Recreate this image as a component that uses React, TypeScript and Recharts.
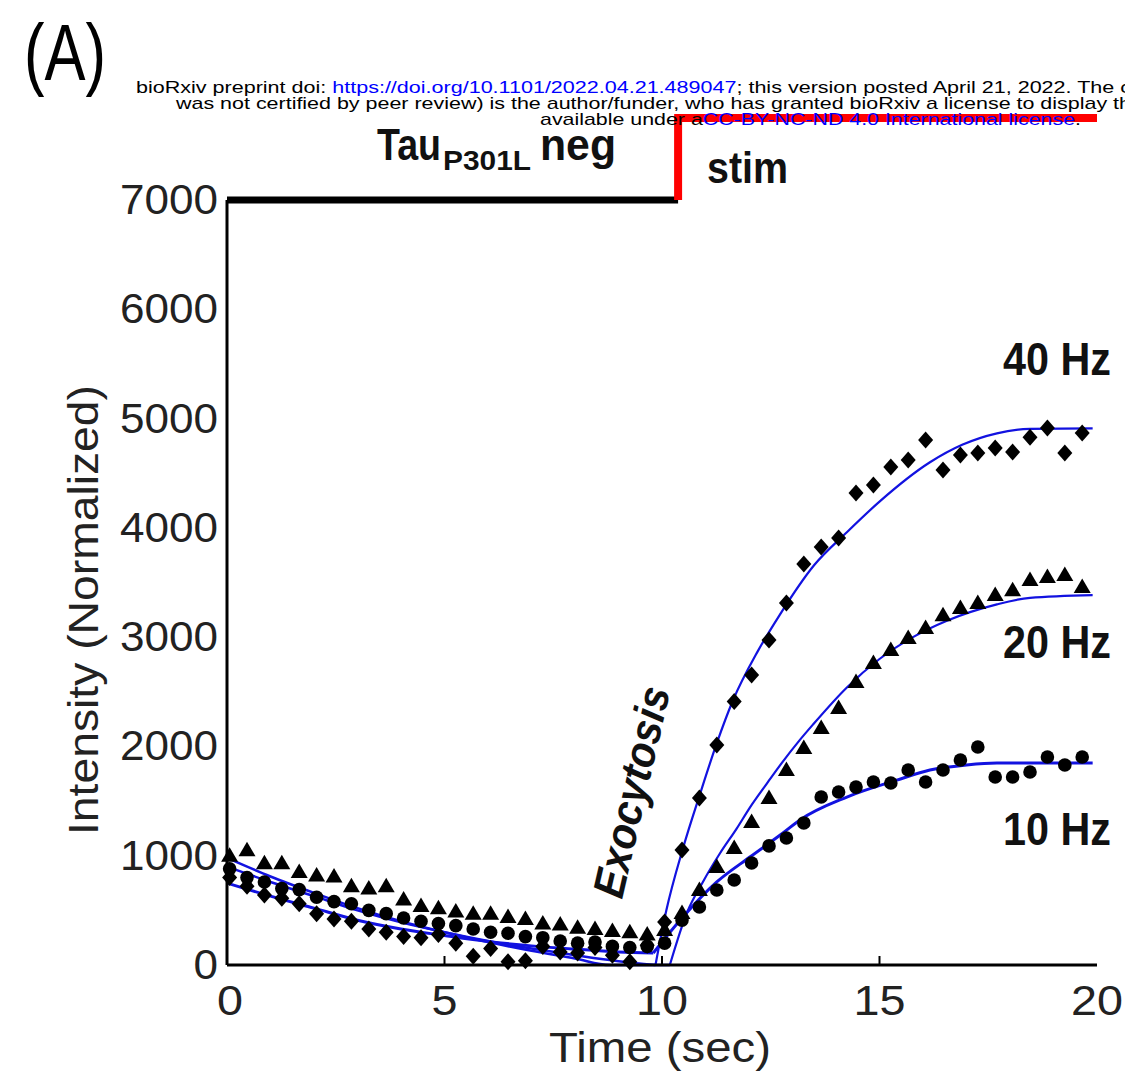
import { ComposedChart, Scatter, Line, XAxis, YAxis, ReferenceLine } from "recharts"

// sample times (s), shared by the three scatter series
const time = [
  0.06, 0.46, 0.86, 1.26, 1.66, 2.06, 2.46, 2.86, 3.26, 3.66, 4.06, 4.46, 4.86, 5.26, 5.66, 6.06, 6.46,
  6.86, 7.26, 7.66, 8.06, 8.46, 8.86, 9.26, 9.66, 10.06, 10.46, 10.86, 11.26, 11.66, 12.06, 12.46, 12.86,
  13.26, 13.66, 14.06, 14.46, 14.86, 15.26, 15.66, 16.06, 16.46, 16.86, 17.26, 17.66, 18.06, 18.46, 18.86,
  19.26, 19.66,
]

const hz40 = [
  800, 720, 640, 610, 560, 470, 420, 400, 330, 300, 260, 250, 280, 200, 80, 150, 30, 40, 170, 120, 110,
  160, 90, 30, 180, 393, 1052, 1528, 2013, 2410, 2653, 2973, 3312, 3670, 3824, 3907, 4318, 4392, 4556,
  4620, 4803, 4529, 4666, 4684, 4730, 4693, 4830, 4913, 4684, 4867,
]

const hz20 = [
  1000, 1050, 930, 930, 850, 820, 810, 720, 700, 720, 600, 540, 520, 490, 470, 470, 440, 420, 380, 370,
  340, 330, 310, 300, 280, 320, 475, 686, 897, 1070, 1308, 1528, 1784, 1985, 2168, 2351, 2589, 2763, 2882,
  2992, 3083, 3200, 3266, 3312, 3385, 3430, 3522, 3550, 3568, 3458,
]

const hz10 = [
  880, 800, 760, 700, 690, 620, 580, 560, 500, 470, 430, 400, 380, 360, 330, 300, 290, 260, 250, 220, 200,
  210, 170, 160, 170, 200, 411, 531, 686, 778, 933, 1090, 1162, 1300, 1537, 1583, 1628, 1674, 1665, 1784,
  1674, 1784, 1876, 1995, 1720, 1720, 1766, 1903, 1830, 1903,
]

// fitted curves (baseline decay + rise after stimulation)
const fit40BaseT = [0, 1, 2, 3, 4, 5, 6, 7, 8, 9, 9.85]
const fit40BaseV = [900, 760, 630, 500, 390, 300, 220, 150, 90, 35, 0]
const fit40RiseT = [9.85, 10.1, 10.48, 10.87, 11.26, 11.63, 12.2, 12.7, 13.5, 14.25, 15, 16.16, 16.9, 17.7, 18.46, 19.9]
const fit40RiseV = [0, 500, 1065, 1560, 2030, 2420, 2870, 3200, 3660, 3960, 4240, 4600, 4760, 4865, 4905, 4910]

const fit20BaseT = [0, 1, 2, 3, 4, 5, 6, 7, 8, 8.8, 10.18]
const fit20BaseV = [980, 810, 660, 520, 400, 300, 210, 130, 60, 0, 0]
const fit20RiseT = [10.18, 10.57, 10.94, 11.33, 11.72, 12.02, 12.41, 12.7, 13.17, 13.47, 14.25, 15, 15.77, 16.55, 17.7, 18.46, 19.9]
const fit20RiseV = [0, 475, 760, 1020, 1250, 1440, 1660, 1820, 2060, 2200, 2540, 2800, 3000, 3150, 3300, 3360, 3385]

const fit10BaseT = [0, 1, 2, 3, 4, 5, 6, 7, 8, 9, 9.8]
const fit10BaseV = [750, 630, 520, 410, 330, 270, 215, 175, 145, 120, 110]
const fit10RiseT = [9.8, 10.48, 11.26, 12.02, 12.78, 13.17, 14.25, 15.4, 16.16, 17, 17.7, 19.9]
const fit10RiseV = [110, 439, 760, 988, 1208, 1327, 1537, 1692, 1784, 1830, 1848, 1848]

const xTicks = [0, 5, 10, 15, 20]
const yTicks = [0, 1000, 2000, 3000, 4000, 5000, 6000, 7000]

const stimOn = 10.37
const stimLevel = 7750

const FONT = "'Liberation Sans', Arial, Helvetica, sans-serif"
const FIT_BLUE = "#1212e0"

const toPoints = (ts: number[], vs: number[]) => ts.map((t, i) => ({ t, v: vs[i] }))

const Diamond = (p: any) => (
  <path d={`M${p.cx},${p.cy - 8.5}L${p.cx + 7.5},${p.cy}L${p.cx},${p.cy + 8.5}L${p.cx - 7.5},${p.cy}Z`} fill="#000" />
)
const Triangle = (p: any) => (
  <path d={`M${p.cx},${p.cy - 8.5}L${p.cx + 8.5},${p.cy + 6}L${p.cx - 8.5},${p.cy + 6}Z`} fill="#000" />
)
const Dot = (p: any) => <circle cx={p.cx} cy={p.cy} r={6.8} fill="#000" />

const XTick = (props: any) => {
  const { x, y, payload } = props
  const inner = payload.value > 0 && payload.value < 20
  const label = String(payload.value)
  return (
    <g>
      {inner && <line x1={x} x2={x} y1={y} y2={y - 9} stroke="#000" strokeWidth={2} />}
      <text x={x + (payload.value === 0 ? 3 : 0)} y={y + 50} textAnchor="middle" fontSize={43} fill="#222"
        fontFamily={FONT} textLength={26 * label.length} lengthAdjust="spacingAndGlyphs">
        {label}
      </text>
    </g>
  )
}

const YTick = (props: any) => {
  const { x, y, payload } = props
  const label = String(payload.value)
  return (
    <text x={x - 9} y={y + 14} textAnchor="end" fontSize={43} fill="#222" fontFamily={FONT}
      textLength={24.5 * label.length} lengthAdjust="spacingAndGlyphs">
      {label}
    </text>
  )
}

const fitLines: [number[], number[], number][] = [
  [fit40BaseT, fit40BaseV, 2.5],
  [fit40RiseT, fit40RiseV, 2.2],
  [fit20BaseT, fit20BaseV, 2.5],
  [fit20RiseT, fit20RiseV, 2.2],
  [fit10BaseT, fit10BaseV, 3],
  [fit10RiseT, fit10RiseV, 3],
]

export default function App() {
  return (
    <div style={{ position: "absolute", left: 0, top: 0, width: 1125, height: 1072, background: "#fff" }}>
      <ComposedChart width={1125} height={1072} margin={{ top: 200, right: 28, bottom: 47, left: 147 }}>
        <XAxis type="number" dataKey="t" domain={[0, 20]} ticks={xTicks} height={60} tickSize={0} tickMargin={0}
          tickLine={false} axisLine={{ stroke: "#000", strokeWidth: 3 }} tick={<XTick />} />
        <YAxis type="number" dataKey="v" domain={[0, 7000]} ticks={yTicks} width={80} tickSize={0} tickMargin={0}
          tickLine={false} axisLine={{ stroke: "#000", strokeWidth: 3 }} tick={<YTick />} />
        <ReferenceLine segment={[{ x: 0, y: 7000 }, { x: stimOn, y: 7000 }]} stroke="#000" strokeWidth={7} ifOverflow="visible" />
        <ReferenceLine segment={[{ x: stimOn, y: 7000 }, { x: stimOn, y: stimLevel }]} stroke="#ff0000" strokeWidth={8} ifOverflow="visible" />
        <ReferenceLine segment={[{ x: stimOn - 0.09, y: stimLevel }, { x: 20, y: stimLevel }]} stroke="#ff0000" strokeWidth={8} ifOverflow="visible" />
        <Scatter data={toPoints(time, hz40)} shape={Diamond} isAnimationActive={false} />
        <Scatter data={toPoints(time, hz20)} shape={Triangle} isAnimationActive={false} />
        <Scatter data={toPoints(time, hz10)} shape={Dot} isAnimationActive={false} />
        {fitLines.map(([ts, vs, w], i) => (
          <Line key={i} data={toPoints(ts, vs)} dataKey="v" type="monotone" stroke={FIT_BLUE} strokeWidth={w}
            dot={false} activeDot={false} isAnimationActive={false} />
        ))}
      </ComposedChart>

      <svg width={1125} height={1072} style={{ position: "absolute", left: 0, top: 0, pointerEvents: "none" }}>
        <text x={24} y={80} fontSize={80} fontFamily={FONT} fill="#000" textLength={82} lengthAdjust="spacingAndGlyphs">(A)</text>

        <text x={136} y={93} fontSize={17} fontFamily={FONT} fill="#000" textLength={995} lengthAdjust="spacingAndGlyphs">
          bioRxiv preprint doi: <tspan fill="#0000ff">https://doi.org/10.1101/2022.04.21.489047</tspan>; this version posted April 21, 2022. The c
        </text>
        <text x={176} y={109} fontSize={17} fontFamily={FONT} fill="#000" textLength={955} lengthAdjust="spacingAndGlyphs">
          was not certified by peer review) is the author/funder, who has granted bioRxiv a license to display th
        </text>
        <text x={540} y={125} fontSize={17} fontFamily={FONT} fill="#000" textLength={541} lengthAdjust="spacingAndGlyphs">
          available under a<tspan fill="#0000ff">CC-BY-NC-ND 4.0 International license</tspan>.
        </text>

        <text x={377} y={160} fontSize={44} fontWeight="bold" fontFamily={FONT} fill="#111" textLength={64} lengthAdjust="spacingAndGlyphs">Tau</text>
        <text x={443} y={170} fontSize={28} fontWeight="bold" fontFamily={FONT} fill="#111" textLength={88} lengthAdjust="spacingAndGlyphs">P301L</text>
        <text x={540} y={160} fontSize={44} fontWeight="bold" fontFamily={FONT} fill="#111" textLength={76} lengthAdjust="spacingAndGlyphs">neg</text>
        <text x={707} y={183} fontSize={44} fontWeight="bold" fontFamily={FONT} fill="#111" textLength={81} lengthAdjust="spacingAndGlyphs">stim</text>

        <text x={1003} y={375} fontSize={46} fontWeight="bold" fontFamily={FONT} fill="#111" textLength={108} lengthAdjust="spacingAndGlyphs">40 Hz</text>
        <text x={1003} y={658} fontSize={46} fontWeight="bold" fontFamily={FONT} fill="#111" textLength={108} lengthAdjust="spacingAndGlyphs">20 Hz</text>
        <text x={1003} y={845} fontSize={46} fontWeight="bold" fontFamily={FONT} fill="#111" textLength={108} lengthAdjust="spacingAndGlyphs">10 Hz</text>

        <text transform="translate(622,900) rotate(-77)" fontSize={44} fontWeight="bold" fontStyle="italic" fontFamily={FONT}
          fill="#111" textLength={215} lengthAdjust="spacingAndGlyphs">Exocytosis</text>

        <text x={660} y={1062} textAnchor="middle" fontSize={43} fontFamily={FONT} fill="#222" textLength={222} lengthAdjust="spacingAndGlyphs">Time (sec)</text>
        <text transform="translate(98,610) rotate(-90)" textAnchor="middle" fontSize={42} fontFamily={FONT} fill="#222"
          textLength={450} lengthAdjust="spacingAndGlyphs">Intensity (Normalized)</text>
      </svg>
    </div>
  )
}
